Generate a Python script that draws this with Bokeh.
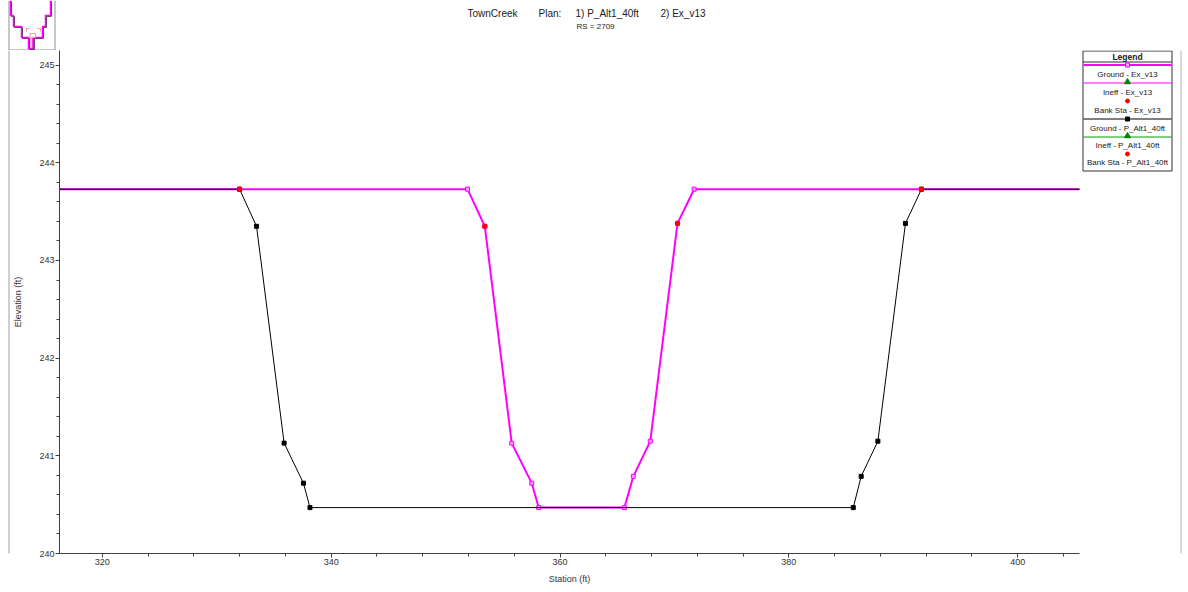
from bokeh.plotting import figure
from bokeh.layouts import column, row
from bokeh.models import Range1d, SingleIntervalTicker
from bokeh.core.properties import value
from bokeh.embed import file_html
from bokeh.resources import INLINE

FONT = "Liberation Sans"

# ---------------- data ----------------
ex_station = [300.0, 351.92, 353.43, 355.78, 357.53, 358.14, 365.63, 366.41, 367.89, 370.27, 371.72, 420.0]
ex_elev = [243.73, 243.73, 243.35, 241.13, 240.72, 240.47, 240.47, 240.79, 241.15, 243.38, 243.73, 243.73]
ex_bank_station = [353.43, 370.27]
ex_bank_elev = [243.35, 243.38]

alt_station = [300.0, 332.0, 333.48, 335.89, 337.58, 338.15, 385.63, 386.32, 387.78, 390.19, 391.59, 420.0]
alt_elev = [243.73, 243.73, 243.35, 241.13, 240.72, 240.47, 240.47, 240.79, 241.15, 243.38, 243.73, 243.73]
alt_bank_station = [332.0, 391.59]
alt_bank_elev = [243.73, 243.73]

legend_labels = ["Ground - Ex_v13", "Ineff - Ex_v13", "Bank Sta - Ex_v13",
                 "Ground - P_Alt1_40ft", "Ineff - P_Alt1_40ft", "Bank Sta - P_Alt1_40ft"]
title_parts = ["TownCreek", "Plan:", "1) P_Alt1_40ft", "2) Ex_v13"]
subtitle = "RS = 2709"

MAG = "#ff00ff"
GRAY = "#333333"
BORDER_BOTTOM = 39

# ---------------- main plot ----------------
main = figure(width=1071, height=542, x_range=Range1d(316.26, 405.4), y_range=Range1d(240.0, 245.15),
              output_backend="svg", toolbar_location=None,
              min_border_left=46, min_border_right=2, min_border_top=0, min_border_bottom=BORDER_BOTTOM,
              x_axis_label="Station (ft)", y_axis_label="Elevation (ft)")
main.xgrid.visible = False
main.ygrid.visible = False
main.outline_line_color = None
main.background_fill_color = "white"
main.border_fill_color = "white"
main.xaxis.ticker = SingleIntervalTicker(interval=20, num_minor_ticks=5)
main.yaxis.ticker = SingleIntervalTicker(interval=1, num_minor_ticks=5)
for ax in (main.xaxis[0], main.yaxis[0]):
    ax.axis_line_color = "#404040"
    ax.major_tick_line_color = "#404040"
    ax.minor_tick_line_color = "#404040"
    ax.major_tick_in = 0
    ax.major_tick_out = 4
    ax.minor_tick_in = 0
    ax.minor_tick_out = 3
    ax.major_label_text_font = FONT
    ax.major_label_text_font_size = "9px"
    ax.major_label_text_color = GRAY
    ax.axis_label_text_font = FONT
    ax.axis_label_text_font_size = "9px"
    ax.axis_label_text_font_style = "normal"
    ax.axis_label_text_color = GRAY
main.yaxis.major_label_standoff = 1
main.xaxis.major_label_standoff = 1
main.yaxis.axis_label_standoff = 13
main.xaxis.axis_label_standoff = 6

main.line(ex_station, ex_elev, line_color=MAG, line_width=2)
main.scatter(ex_station, ex_elev, marker="square", size=4, fill_color="#ff9cff", line_color=MAG)
main.line(alt_station, alt_elev, line_color="black", line_width=1)
main.scatter(alt_station, alt_elev, marker="square", size=4, fill_color="black", line_color="black")
main.scatter(ex_bank_station, ex_bank_elev, marker="circle", size=4.5, fill_color="red", line_color="red")
main.scatter(alt_bank_station, alt_bank_elev, marker="circle", size=4.5, fill_color="red", line_color="red")

# ---------------- helper for pixel figures ----------------
def pixfig(w, h, x0, x1, ytop, ybot, bottom_border=0):
    f = figure(width=w, height=h, x_range=Range1d(x0, x1), y_range=Range1d(ybot, ytop),
               output_backend="svg", toolbar_location=None, x_axis_type=None, y_axis_type=None,
               min_border=0, min_border_left=0, min_border_right=0, min_border_top=0,
               min_border_bottom=bottom_border)
    f.outline_line_color = None
    f.background_fill_color = "white"
    f.border_fill_color = "white"
    return f

# ---------------- legend figure (frame spans canvas y 50..553) ----------------
leg = pixfig(107, 542, 1081, 1188, 50, 553, BORDER_BOTTOM)
leg.segment(x0=[1180.5], y0=[50], x1=[1180.5], y1=[553], line_color="#b4b4b4", line_width=1)
leg.quad(left=[1082.5], right=[1171.5], top=[50.5], bottom=[170.5], fill_color="white", line_color="#303030", line_width=1)
leg.segment(x0=[1082.5], y0=[61.5], x1=[1171.5], y1=[61.5], line_color="#303030", line_width=1)
leg.text(x=[1127], y=[56], text=["Legend"], text_font=value(FONT), text_font_size="8.5px",
         text_font_style="bold", text_align="center", text_baseline="middle", text_color="#202020")
cx = 1127
leg.segment(x0=[1083], y0=[64.5], x1=[1171], y1=[64.5], line_color=MAG, line_width=2)
leg.scatter([cx], [64.5], marker="square", size=4, fill_color="#ff9cff", line_color=MAG)
leg.segment(x0=[1083], y0=[82.5], x1=[1171], y1=[82.5], line_color=MAG, line_width=1)
leg.scatter([cx], [81.5], marker="triangle", size=6, fill_color="#008000", line_color="#008000")
leg.scatter([cx], [100.5], marker="circle", size=4, fill_color="red", line_color="red")
leg.segment(x0=[1083], y0=[118.5], x1=[1171], y1=[118.5], line_color="black", line_width=1)
leg.scatter([cx], [118.5], marker="square", size=4, fill_color="black", line_color="black")
leg.segment(x0=[1083], y0=[136.5], x1=[1171], y1=[136.5], line_color="#00a000", line_width=1)
leg.scatter([cx], [135.5], marker="triangle", size=6, fill_color="#008000", line_color="#008000")
leg.scatter([cx], [153.5], marker="circle", size=4, fill_color="red", line_color="red")
leg.text(x=[cx] * 6, y=[74, 92, 110, 127.5, 145, 162], text=legend_labels, text_font=value(FONT),
         text_font_size="8px", text_align="center", text_baseline="middle", text_color="#202020")

# ---------------- left strip ----------------
strip = pixfig(10, 542, 0, 10, 50, 553, BORDER_BOTTOM)
strip.segment(x0=[8.5], y0=[50], x1=[8.5], y1=[553], line_color="#a0a0a0", line_width=1)

# ---------------- top strip: title + overview thumbnail ----------------
top = pixfig(1188, 50, 0, 1188, 0, 50)
top.text(x=[467, 538, 575, 660], y=[13, 13, 13, 13], text=title_parts, text_font=value(FONT),
         text_font_size="10px", text_align="left", text_baseline="middle", text_color="#202020")
top.text(x=[576], y=[26], text=[subtitle], text_font=value(FONT), text_font_size="8px",
         text_align="left", text_baseline="middle", text_color="#202020")
top.segment(x0=[8.5, 54.5, 8], y0=[0, 0, 49.5], x1=[8.5, 54.5, 55], y1=[50, 50, 49.5], line_color="#909090", line_width=1)
thumb_x = [10, 10, 13, 13, 21, 21, 28, 28, 33, 33, 42, 42, 45, 45, 50, 50]
thumb_y = [0, 15, 15, 26, 26, 37, 37, 48, 48, 37, 37, 26, 26, 15, 15, 0]
top.quad(left=[28.5], right=[32], top=[37], bottom=[48], fill_color="#f2c4c4", line_color=None)
top.line([x + 0.8 for x in thumb_x], [y + 0.8 for y in thumb_y], line_color="#202020", line_width=1)
top.line(thumb_x, thumb_y, line_color=MAG, line_width=1.5)
top.segment(x0=[32.5], y0=[37], x1=[32.5], y1=[48], line_color=MAG, line_width=1.5)
top.quad(left=[29.5], right=[35], top=[33], bottom=[37], fill_color=None, line_color="#f0a0a0", line_width=1)
top.multi_line(xs=[[26, 26, 29], [37, 40, 40]], ys=[[31, 28, 28], [28, 28, 31]], line_color="#f0a0a0", line_width=1)

layout = column(top, row(strip, main, leg))
open("out.html", "w").write(file_html(layout, INLINE))
